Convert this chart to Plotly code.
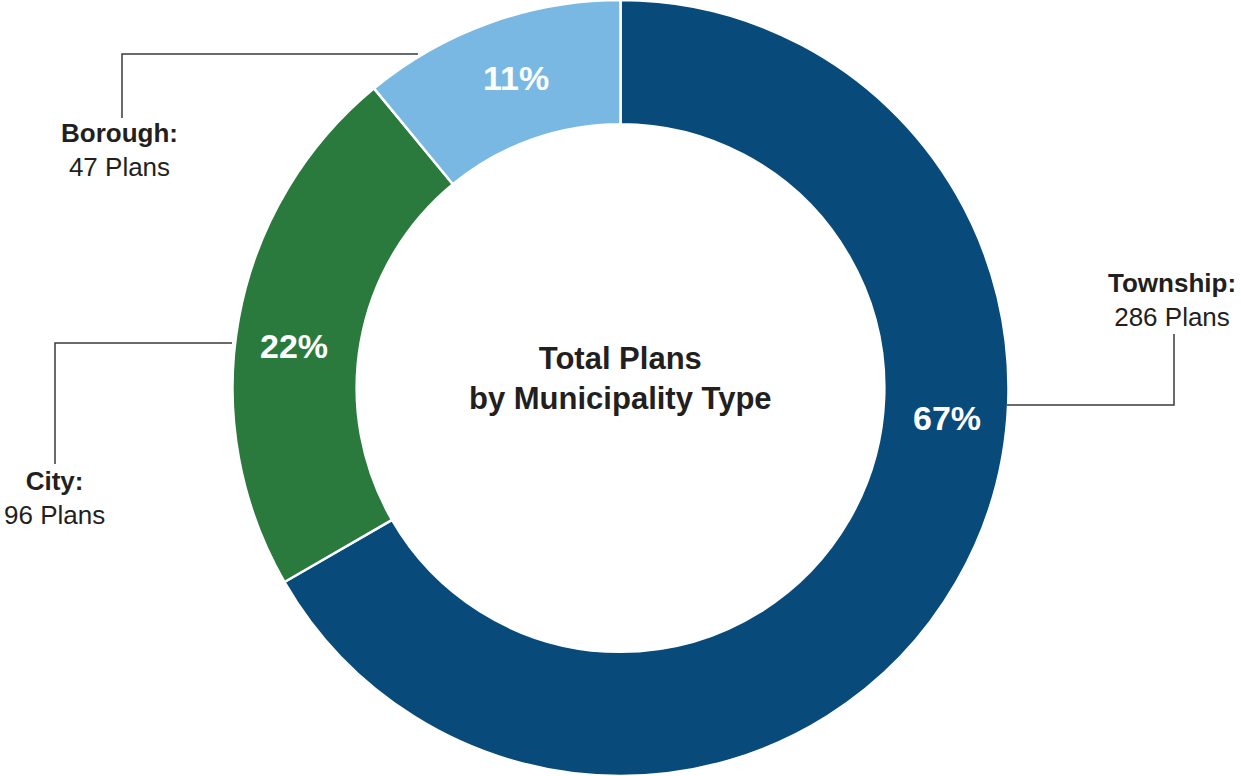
import plotly.graph_objects as go

# Plan counts by municipality type
categories = ["Township", "City", "Borough"]
plans = [286, 96, 47]
colors = ["#084A7A", "#2A7A3D", "#7AB8E4"]

W, H = 1241, 776
FONT = "Liberation Sans, Arial, sans-serif"


def px(x, y):
    """Pixel position -> paper coordinates."""
    return x / W, 1 - y / H


total = sum(plans)
pcts = [round(100 * v / total) for v in plans]

fig = go.Figure(
    go.Pie(
        labels=categories,
        values=plans,
        sort=False,
        direction="clockwise",
        rotation=0,
        hole=0.68,
        marker=dict(colors=colors, line=dict(color="white", width=2.5)),
        textinfo="none",
        hoverinfo="label+value+percent",
        showlegend=False,
        domain=dict(x=[0, 1], y=[0, 1]),
    )
)

annotations = []

# percentage labels inside the ring
pct_pos = {"Township": (947, 418), "City": (294, 346), "Borough": (516, 78)}
for cat, p in zip(categories, pcts):
    x, y = px(*pct_pos[cat])
    annotations.append(dict(
        x=x, y=y, xref="paper", yref="paper", showarrow=False,
        text=f"<b>{p}%</b>", font=dict(family=FONT, size=34, color="white"),
        xanchor="center", yanchor="middle",
    ))

# outer labels: name in bold, count below
label_pos = {"Township": (1172, 300), "City": (55, 498), "Borough": (119, 150)}
for cat, v in zip(categories, plans):
    x, y = px(*label_pos[cat])
    annotations.append(dict(
        x=x, y=y, xref="paper", yref="paper", showarrow=False,
        text=f"<b>{cat}:</b><br>{v} Plans",
        font=dict(family=FONT, size=26, color="#231F20"),
        xanchor="center", yanchor="middle", align="center",
    ))

# center title
cx, cy = px(620, 378)
annotations.append(dict(
    x=cx, y=cy, xref="paper", yref="paper", showarrow=False,
    text="<b>Total Plans<br>by Municipality Type</b>",
    font=dict(family=FONT, size=31, color="#231F20"),
    xanchor="center", yanchor="middle", align="center",
))

# leader lines
leaders = [
    [(418, 54), (122, 54), (122, 118)],     # Borough
    [(232, 343), (55, 343), (55, 464)],     # City
    [(1007, 405), (1174, 405), (1174, 334)],  # Township
]
shapes = []
for pts in leaders:
    path = "M " + " L ".join(f"{px(x, y)[0]:.5f},{px(x, y)[1]:.5f}" for x, y in pts)
    shapes.append(dict(type="path", path=path, xref="paper", yref="paper",
                       line=dict(color="#3A3A3A", width=1.5)))

fig.update_layout(
    width=W, height=H,
    margin=dict(l=0, r=0, t=0, b=0),
    paper_bgcolor="white", plot_bgcolor="white",
    annotations=annotations, shapes=shapes,
)

fig.write_html("out.html")
